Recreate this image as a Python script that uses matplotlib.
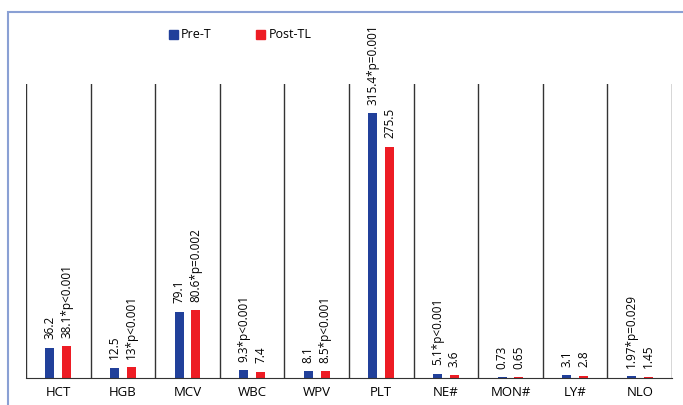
import matplotlib
matplotlib.use("Agg")
import matplotlib.pyplot as plt
from matplotlib.patches import Rectangle, Patch
import numpy as np

plt.rcParams['font.family'] = ['Open Sans', 'DejaVu Sans']

categories = ["HCT", "HGB", "MCV", "WBC", "WPV", "PLT", "NE#", "MON#", "LY#", "NLO"]
pre_t = [36.2, 12.5, 79.1, 9.3, 8.1, 315.4, 5.1, 0.73, 3.1, 1.97]
post_tl = [38.1, 13, 80.6, 7.4, 8.5, 275.5, 3.6, 0.65, 2.8, 1.45]
pre_labels = ["36.2", "12.5", "79.1", "9.3*p<0.001", "8.1", "315.4*p=0.001",
              "5.1*p<0.001", "0.73", "3.1", "1.97*p=0.029"]
post_labels = ["38.1*p<0.001", "13*p<0.001", "80.6*p=0.002", "7.4", "8.5*p<0.001",
               "275.5", "3.6", "0.65", "2.8", "1.45"]

blue = "#21409a"
red = "#ed1c24"

W, H = 683, 405
fig = plt.figure(figsize=(W / 100, H / 100), dpi=100)
ax = fig.add_axes([26 / W, (H - 378) / H, (672 - 26) / W, (378 - 84) / H])

x = np.arange(len(categories))
off, bw = 0.13, 0.14
ax.bar(x - off, pre_t, bw, color=blue)
ax.bar(x + off, post_tl, bw, color=red)

for i in range(len(categories)):
    ax.annotate(pre_labels[i], (x[i] - off, pre_t[i]), xytext=(0, 6), textcoords="offset points",
                rotation=90, ha="center", va="bottom", fontsize=8.5, annotation_clip=False)
    ax.annotate(post_labels[i], (x[i] + off, post_tl[i]), xytext=(0, 6), textcoords="offset points",
                rotation=90, ha="center", va="bottom", fontsize=8.5, annotation_clip=False)

for b in np.arange(-0.5, len(categories), 1):
    ax.axvline(b, color="#333333", lw=1)

ax.set_xlim(-0.5, len(categories) - 0.5)
ax.set_ylim(0, 350)
ax.set_xticks(x)
ax.set_xticklabels(categories, fontsize=9.5)
ax.tick_params(axis="x", length=0, pad=6)
ax.set_yticks([])
for s in ["top", "left", "right"]:
    ax.spines[s].set_visible(False)
ax.spines["bottom"].set_color("#333333")

fig.legend(handles=[Patch(color=blue, label="Pre-T"), Patch(color=red, label="Post-TL")],
           loc="center", bbox_to_anchor=(240 / W, 1 - 35 / H), ncol=2, frameon=False,
           fontsize=9, handlelength=0.7, handleheight=0.7, handletextpad=0.3, columnspacing=3.5)

fig.patches.append(Rectangle((8 / W, -0.1), 1.0, 1 - 12 / H + 0.1, transform=fig.transFigure,
                             fill=False, edgecolor="#8aa0d4", lw=1.5))

fig.savefig("out.png", dpi=100)
